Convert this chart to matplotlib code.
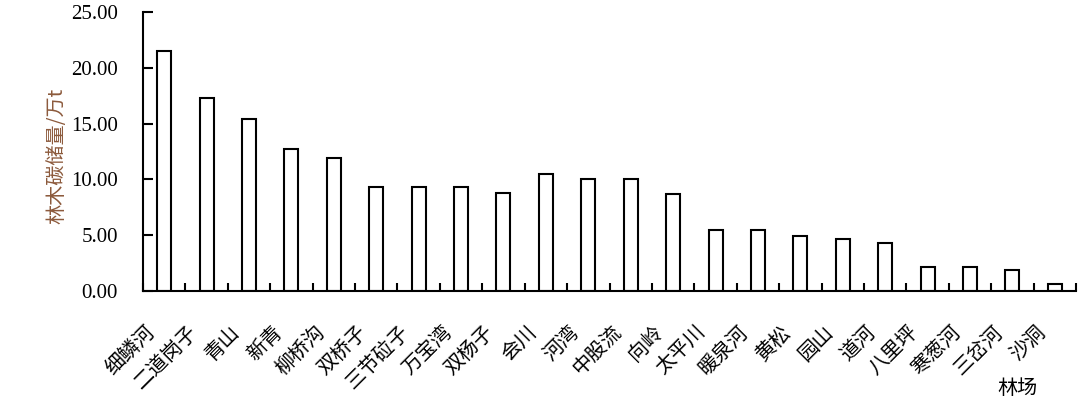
import matplotlib
matplotlib.use("Agg")
import matplotlib.pyplot as plt
import matplotlib.transforms as mtransforms
import numpy as np

# data
farms = ["细鳞河", "二道岗子", "青山", "新青", "柳桥沟", "双桥子", "三节砬子",
         "万宝湾", "双杨子", "会川", "河湾", "中股流", "向岭", "太平川",
         "暖泉河", "黄松", "园山", "道河", "八里坪", "寒葱河", "三岔河", "沙洞"]
carbon = [21.53, 17.32, 15.41, 12.75, 11.94, 9.35, 9.35, 9.35, 8.81, 10.48,
          10.04, 10.04, 8.72, 5.47, 5.47, 4.93, 4.66, 4.33, 2.18, 2.12, 1.88, 0.65]
yticks = [0, 5, 10, 15, 20, 25]

cjk = ["Noto Sans CJK SC", "DejaVu Sans"]
serif = "Liberation Serif"

fig = plt.figure(figsize=(10.91, 4.09), dpi=100)
ax = fig.add_axes([143 / 1091, 1 - 291 / 409, (1076 - 143) / 1091, (291 - 12) / 409])

x = np.arange(len(farms))
ax.bar(x, carbon, width=0.33, facecolor="white", edgecolor="black", linewidth=1.5)

ax.set_xlim(-0.5, len(farms) - 0.5)
ax.set_ylim(0, 25)

# y axis
ax.set_yticks(yticks)
ax.set_yticklabels(["%.2f" % v for v in yticks], fontfamily=serif, fontsize=15)
ax.tick_params(axis="y", direction="in", length=7, width=1.5, pad=18)

# x axis: ticks at category boundaries, labels at centres
ax.set_xticks(np.arange(len(farms) + 1) - 0.5)
ax.set_xticklabels([])
ax.tick_params(axis="x", which="major", direction="in", length=6, width=1.5)
ax.set_xticks(x, minor=True)
ax.set_xticklabels(farms, minor=True, rotation=45, ha="right", va="top",
                   rotation_mode="anchor", fontfamily=cjk, fontsize=14.5)
ax.tick_params(axis="x", which="minor", length=0, pad=22)
shift = mtransforms.ScaledTranslation(-20 / 100, 0, fig.dpi_scale_trans)
for lab in ax.get_xticklabels(minor=True):
    lab.set_transform(lab.get_transform() + shift)

for side in ["top", "right"]:
    ax.spines[side].set_visible(False)
for side in ["left", "bottom"]:
    ax.spines[side].set_linewidth(1.5)

fig.text(57 / 1091, 1 - 156 / 409, "林木碳储量/万t", fontfamily=cjk, fontsize=14.5,
         color="#8c5a3c", rotation=90, ha="center", va="center")
fig.text(1017 / 1091, 1 - 388 / 409, "林场", fontfamily=cjk, fontsize=14.5,
         ha="center", va="center")

fig.savefig("out.png", dpi=100)
